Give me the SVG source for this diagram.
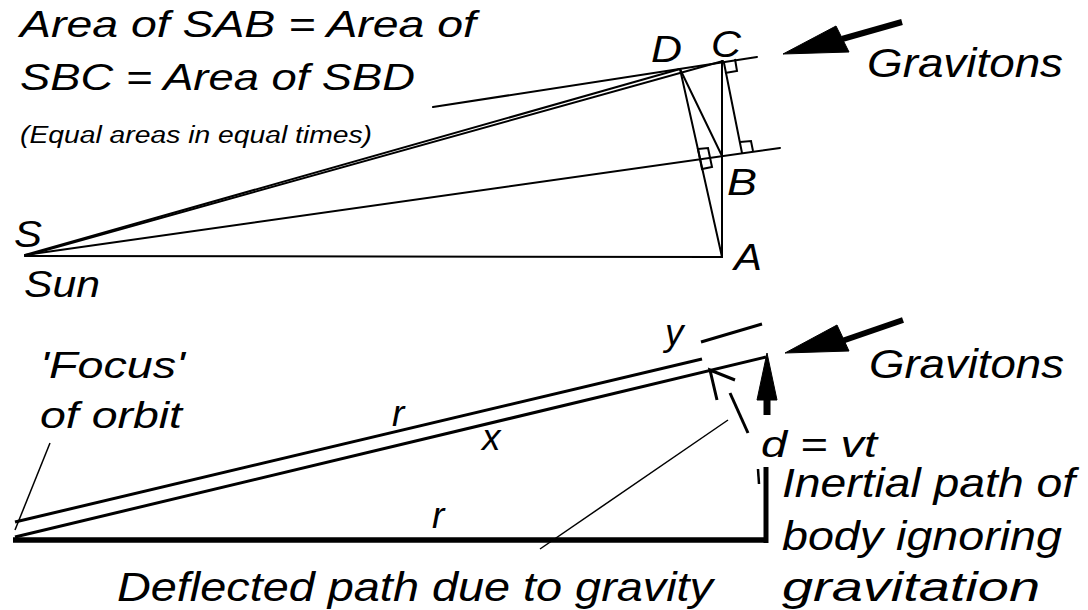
<svg xmlns="http://www.w3.org/2000/svg" width="1088" height="610" viewBox="0 0 1088 610">
<style>
text{font-family:"Liberation Sans",Arial,sans-serif;font-style:italic;fill:#000}
.t1{font-size:36px}
.t2{font-size:23px}
.lbl{font-size:37px}
.big{font-size:40px}
.ln{stroke:#000;stroke-width:2;fill:none;stroke-linecap:round}
.thin{stroke:#000;stroke-width:1.5;fill:none}
.th{stroke:#000;stroke-width:3;fill:none}
.thick{stroke:#000;stroke-width:5.5;fill:none}
.mk{stroke:#000;stroke-width:2;fill:none;stroke-linejoin:miter}
.head{fill:#000;stroke:#000;stroke-width:1;stroke-linejoin:round}
</style>
<rect width="1088" height="610" fill="#fff"/>
<g id="connectors">
<line class="ln" x1="25" y1="256" x2="722" y2="257"/>
<line class="ln" x1="25" y1="255" x2="780" y2="148"/>
<line class="ln" x1="25" y1="255" x2="680" y2="69"/>
<line class="ln" x1="25" y1="256" x2="723" y2="61"/>
<line class="ln" x1="433" y1="107" x2="757" y2="57"/>
<line class="ln" x1="722" y1="61" x2="722" y2="257"/>
<line class="ln" x1="680" y1="69" x2="722" y2="257"/>
<line class="ln" x1="680" y1="69" x2="722" y2="156"/>
<line class="ln" x1="724" y1="63" x2="742" y2="153"/>
<polyline class="mk" points="735,59 737,71 725,73"/>
<polyline class="mk" points="753,151 751,141 740,142"/>
<polygon class="mk" points="698,149 708,148 712,167 702,169"/>
<line stroke="#000" stroke-width="6" x1="842" y1="39" x2="902" y2="22"/>
<polygon class="head" points="783,54 836,26 849,52"/>
<line class="thick" x1="13" y1="540" x2="768" y2="540"/>
<line class="th" x1="15" y1="522" x2="702" y2="359"/>
<line class="th" x1="15" y1="537" x2="766" y2="357"/>
<line class="th" x1="701" y1="342" x2="762" y2="324"/>
<line class="thin" x1="50" y1="443" x2="15" y2="530"/>
<line class="thin" x1="540" y1="549" x2="728" y2="420"/>
<line class="th" x1="748" y1="433" x2="730" y2="393"/>
<polyline class="th" points="717,400 710,370 735,380"/>
<polygon class="head" points="767,353 757,400 777,400"/>
<line stroke="#000" stroke-width="7" x1="767" y1="395" x2="767" y2="415"/>
<line stroke="#000" stroke-width="5" x1="766" y1="467" x2="766" y2="543"/>
<line stroke="#000" stroke-width="2.5" x1="758" y1="469" x2="759" y2="484"/>
<line stroke="#000" stroke-width="6" x1="842" y1="341" x2="903" y2="320"/>
<polygon class="head" points="785,353 837,325 849,351"/>
</g>
<g id="title">
<text class="t1" x="20" y="37" textLength="456" lengthAdjust="spacingAndGlyphs">Area of SAB = Area of</text>
<text class="t1" x="20" y="90" textLength="395" lengthAdjust="spacingAndGlyphs">SBC = Area of SBD</text>
<text class="t2" x="20" y="143" textLength="352" lengthAdjust="spacingAndGlyphs">(Equal areas in equal times)</text>
</g>
<g id="node-S"><text class="lbl" x="14" y="247" textLength="28" lengthAdjust="spacingAndGlyphs">S</text><text class="lbl" x="24" y="297" textLength="76" lengthAdjust="spacingAndGlyphs">Sun</text></g>
<g id="node-A"><text class="lbl" x="734" y="270" textLength="28" lengthAdjust="spacingAndGlyphs">A</text></g>
<g id="node-B"><text class="lbl" x="727" y="195" textLength="30" lengthAdjust="spacingAndGlyphs">B</text></g>
<g id="node-C"><text class="lbl" x="711" y="57" textLength="30" lengthAdjust="spacingAndGlyphs">C</text></g>
<g id="node-D"><text class="lbl" x="651" y="62" textLength="31" lengthAdjust="spacingAndGlyphs">D</text></g>
<g id="gravitons-top"><text class="big" x="867" y="77" textLength="196" lengthAdjust="spacingAndGlyphs">Gravitons</text></g>
<g id="gravitons-bottom"><text class="big" x="869" y="378" textLength="195" lengthAdjust="spacingAndGlyphs">Gravitons</text></g>
<g id="focus"><text class="lbl" x="40" y="378" textLength="145" lengthAdjust="spacingAndGlyphs">'Focus'</text><text class="lbl" x="40" y="428" textLength="142" lengthAdjust="spacingAndGlyphs">of orbit</text></g>
<g id="labels-rxy">
<text class="lbl" x="392" y="426">r</text>
<text class="lbl" x="482" y="450">x</text>
<text class="lbl" x="432" y="528">r</text>
<text class="lbl" x="665" y="345">y</text>
</g>
<g id="dvt"><text class="lbl" x="761" y="457" font-size="34" textLength="116" lengthAdjust="spacingAndGlyphs">d = vt</text></g>
<g id="inertial">
<text class="big" x="782" y="497" textLength="293" lengthAdjust="spacingAndGlyphs">Inertial path of</text>
<text class="big" x="782" y="550" textLength="280" lengthAdjust="spacingAndGlyphs">body ignoring</text>
<text class="big" x="782" y="601" textLength="258" lengthAdjust="spacingAndGlyphs">gravitation</text>
</g>
<g id="deflected"><text class="big" x="117" y="601" textLength="596" lengthAdjust="spacingAndGlyphs">Deflected path due to gravity</text></g>
</svg>
